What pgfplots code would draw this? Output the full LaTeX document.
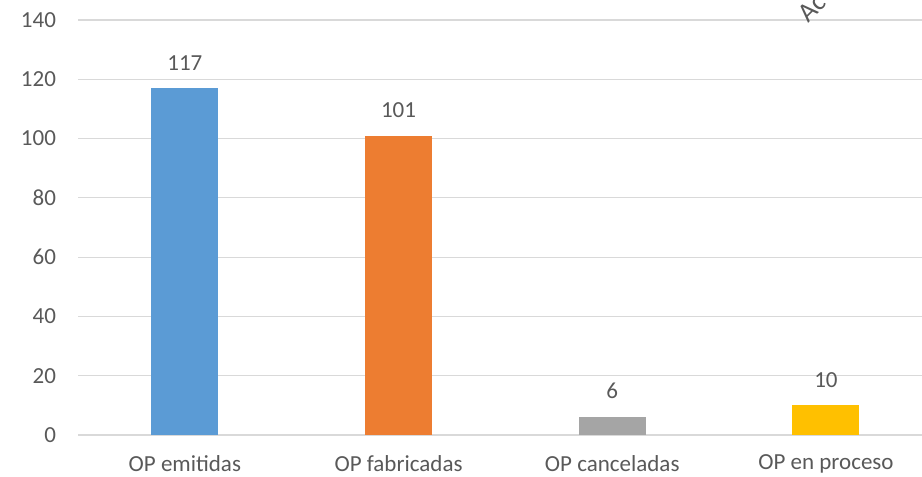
\documentclass[border=0pt]{standalone}
\usepackage{pgfplots}
\pgfplotsset{compat=1.18}
\usepackage{fontspec}
\setmainfont{Carlito}
\definecolor{cblue}{HTML}{5B9BD5}
\definecolor{corange}{HTML}{ED7D31}
\definecolor{cgray}{HTML}{A5A5A5}
\definecolor{cgold}{HTML}{FFC000}
\definecolor{txt}{HTML}{595959}
\definecolor{gridc}{HTML}{D9D9D9}
\begin{document}
\fontsize{11.5pt}{13pt}\selectfont
\begin{tikzpicture}
\path[use as bounding box] (0,0) rectangle (461pt,238.5pt);
\begin{axis}[
  at={(39pt,21pt)}, anchor=south west,
  scale only axis, width=427.4pt, height=207.5pt,
  xmin=-0.5, xmax=3.5, ymin=0, ymax=140,
  ytick={0,20,...,140},
  xtick={0,1,2,3},
  xticklabels={OP emitidas, OP fabricadas, OP canceladas, OP en proceso},
  axis line style={draw=none},
  major tick length=0pt,
  ymajorgrids, grid style={gridc, line width=0.6pt},
  tick label style={font=\fontsize{11.5pt}{13pt}\selectfont, text=txt},
  /pgf/number format/assume math mode=true,
  yticklabel style={xshift=-7pt},
  xticklabel style={yshift=-6pt},
  bar width=33.5pt,
  nodes near coords,
  every node near coord/.append style={font=\fontsize{11.5pt}{13pt}\selectfont, text=txt, yshift=5pt},
  clip=false,
]
\addplot[ybar, bar shift=0pt, fill=cblue, draw=none] coordinates {(0,117)};
\addplot[ybar, bar shift=0pt, fill=corange, draw=none] coordinates {(1,101)};
\addplot[ybar, bar shift=0pt, fill=cgray, draw=none] coordinates {(2,6)};
\addplot[ybar, bar shift=0pt, fill=cgold, draw=none] coordinates {(3,10)};
\end{axis}
\node[rotate=45, anchor=base west, text=txt, inner sep=0pt, font=\fontsize{13.5pt}{15pt}\selectfont] at (404pt,226.5pt) {Ac};
\end{tikzpicture}
\end{document}
